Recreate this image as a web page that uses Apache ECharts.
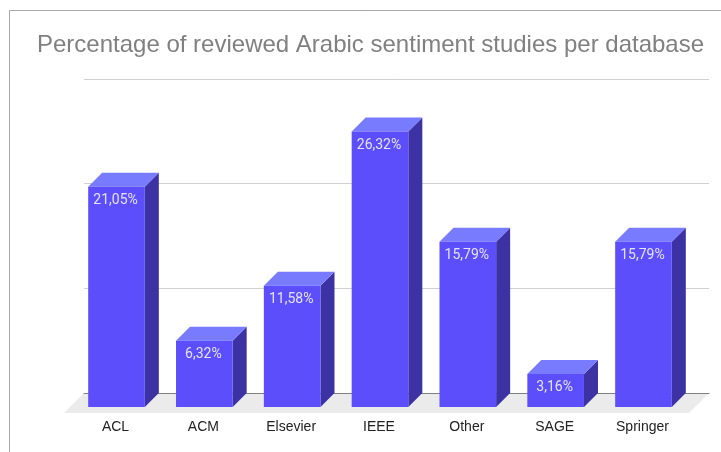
<!DOCTYPE html>
<html>
<head>
<meta charset="utf-8">
<style>
  html, body { margin: 0; padding: 0; background: #fff; }
  #chart { width: 721px; height: 452px; }
</style>
<script src="https://cdn.jsdelivr.net/npm/echarts@6/dist/echarts.min.js"></script>
</head>
<body>
<div id="chart"></div>
<script>
const categories = ['ACL', 'ACM', 'Elsevier', 'IEEE', 'Other', 'SAGE', 'Springer'];
const percentages = [21.05, 6.32, 11.58, 26.32, 15.79, 3.16, 15.79];
const valueTicks = [0, 10, 20, 30];

const DEPTH = 14; // bar depth, same to the right and upwards
const myChart = echarts.init(document.getElementById('chart'));

// one 3d looking bar: front face, top face, side face and the label
function renderBar(params, api) {
  const value = api.value(1);
  const top = api.coord([api.value(0), value]);
  const base = api.coord([api.value(0), 0]);
  const width = api.size([1, 0])[0] * 0.645;
  const x0 = top[0] - width / 2;
  const x1 = top[0] + width / 2;
  return {
    type: 'group',
    children: [
      {
        type: 'polygon',
        shape: { points: [[x1, top[1]], [x1 + DEPTH, top[1] - DEPTH], [x1 + DEPTH, base[1] - DEPTH], [x1, base[1]]] },
        style: { fill: '#3c32a3' }
      },
      {
        type: 'polygon',
        shape: { points: [[x0, top[1]], [x0 + DEPTH, top[1] - DEPTH], [x1 + DEPTH, top[1] - DEPTH], [x1, top[1]]] },
        style: { fill: '#787bfd' }
      },
      {
        type: 'rect',
        shape: { x: x0, y: top[1], width: width, height: base[1] - top[1] },
        style: { fill: '#5c4ffb' }
      },
      {
        type: 'text',
        style: {
          text: value.toFixed(2).replace('.', ',') + '%',
          x: top[0] - 1,
          y: top[1] + 14,
          align: 'center',
          verticalAlign: 'middle',
          fill: '#e4e4ff',
          font: '14px Roboto'
        }
      }
    ]
  };
}

const option = {
  animation: false,
  backgroundColor: '#fff',
  title: {
    text: 'Percentage of reviewed Arabic sentiment studies per database',
    left: 32,
    top: 28,
    textStyle: { fontFamily: 'Liberation Sans', fontSize: 24, fontWeight: 'normal', color: '#808080' }
  },
  // grid 0 is the back wall with the lines, grid 1 is the plane of the bar fronts
  grid: [
    { left: 84, right: 12, top: 79, bottom: 59 },
    { left: 72.6, width: 614.8, top: 93, bottom: 45 }
  ],
  xAxis: [
    {
      gridIndex: 0,
      type: 'category',
      data: categories,
      axisLine: { lineStyle: { color: '#808080', width: 1 } },
      axisTick: { show: false },
      axisLabel: { show: false }
    },
    {
      gridIndex: 1,
      type: 'category',
      data: categories,
      axisLine: { show: false },
      axisTick: { show: false },
      axisLabel: {
        margin: 13,
        padding: [0, 2, 0, 0],
        fontFamily: 'Liberation Sans',
        fontSize: 14,
        color: '#222'
      }
    }
  ],
  yAxis: [
    {
      gridIndex: 0,
      type: 'value',
      min: valueTicks[0],
      max: valueTicks[valueTicks.length - 1],
      interval: 10,
      axisLabel: { show: false },
      axisLine: { show: false },
      axisTick: { show: false },
      splitLine: { lineStyle: { color: '#d0d0d0', width: 1 } }
    },
    {
      gridIndex: 1,
      type: 'value',
      min: valueTicks[0],
      max: valueTicks[valueTicks.length - 1],
      interval: 10,
      axisLabel: { show: false },
      axisLine: { show: false },
      axisTick: { show: false },
      splitLine: { show: false }
    }
  ],
  graphic: [
    {
      type: 'polygon',
      z: -1,
      shape: { points: [[84, 393], [709, 393], [689, 413], [64, 413]] },
      style: { fill: '#ebebeb' }
    },
    {
      type: 'polyline',
      shape: { points: [[9.5, 452], [9.5, 10.5], [721, 10.5]] },
      style: { stroke: '#a8a8a8', lineWidth: 1, fill: null }
    }
  ],
  series: [
    {
      type: 'custom',
      xAxisIndex: 1,
      yAxisIndex: 1,
      renderItem: renderBar,
      data: categories.map((name, i) => [i, percentages[i]]),
      clip: false
    }
  ]
};
myChart.setOption(option);
</script>
</body>
</html>
